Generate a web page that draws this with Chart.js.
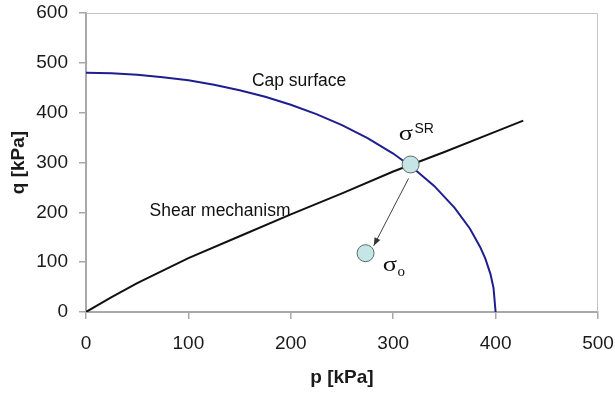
<!DOCTYPE html>
<html>
<head>
<meta charset="utf-8">
<script src="https://cdn.jsdelivr.net/npm/chart.js@4.4.1/dist/chart.umd.min.js"></script>
<style>
  html, body { margin: 0; padding: 0; background: #ffffff; }
  #wrap { width: 615px; height: 393px; }
</style>
</head>
<body>
<div id="wrap"><canvas id="c" width="615" height="393"></canvas></div>
<script>
// ---- data ----
const pCap   = [0, 25, 50, 75, 100, 125, 150, 175, 200, 225, 250, 275, 300, 320, 340, 360, 375, 385, 390, 395, 398, 400];
const qCap   = [480, 479, 476, 471, 465, 456, 445, 432, 416, 397, 375, 349, 318, 288, 253, 209, 167, 130, 107, 76, 48, 0];
const pShear = [0, 25, 50, 100, 150, 200, 250, 300, 350, 400, 427];
const qShear = [0, 30, 58, 108, 152, 196, 238, 282, 321, 362, 384];
const pStress = [317, 273];
const qStress = [296, 118];
const pArrow = [315, 281];
const qArrow = [268, 133];
const xTicks = [0, 100, 200, 300, 400, 500];
const yTicks = [0, 100, 200, 300, 400, 500, 600];
const xTitle = 'p [kPa]';
const yTitle = 'q [kPa]';
const curveLabels = ['Cap surface', 'Shear mechanism'];
const curveLabelP = [162, 62];
const curveLabelQ = [463, 203];
const stressLabels = [{main: 'σ', sup: 'SR'}, {main: 'σ', sub: 'o'}];
const stressLabelP = [305.4, 289.8];
const stressLabelQ = [346, 82];

const toXY = (xs, ys) => xs.map((x, i) => ({x: x, y: ys[i]}));
const SANS = '"Liberation Sans", Arial, sans-serif';
const SERIF = '"Liberation Serif", "Times New Roman", serif';

const framePlugin = {
  id: 'frame',
  beforeDatasetsDraw(chart) {
    const {ctx, chartArea: a} = chart;
    ctx.save();
    ctx.strokeStyle = '#c4c4c4';
    ctx.lineWidth = 1;
    ctx.beginPath();
    ctx.moveTo(a.left, a.top + 0.5);
    ctx.lineTo(a.right - 0.5, a.top + 0.5);
    ctx.lineTo(a.right - 0.5, a.bottom);
    ctx.stroke();
    ctx.restore();
  }
};

const arrowPlugin = {
  id: 'arrowHead',
  afterDatasetsDraw(chart) {
    const meta = chart.getDatasetMeta(2);
    if (!meta || !meta.data || meta.data.length < 2) return;
    const a = meta.data[0], b = meta.data[1];
    const ang = Math.atan2(b.y - a.y, b.x - a.x);
    const L = 8, W = 3.2;
    const {ctx} = chart;
    ctx.save();
    ctx.fillStyle = '#333333';
    ctx.beginPath();
    ctx.moveTo(b.x, b.y);
    ctx.lineTo(b.x - L * Math.cos(ang) + W * Math.sin(ang), b.y - L * Math.sin(ang) - W * Math.cos(ang));
    ctx.lineTo(b.x - L * Math.cos(ang) - W * Math.sin(ang), b.y - L * Math.sin(ang) + W * Math.cos(ang));
    ctx.closePath();
    ctx.fill();
    ctx.restore();
  }
};

const labelPlugin = {
  id: 'labels',
  afterDraw(chart) {
    const {ctx, scales} = chart;
    const xs = scales.x, ys = scales.y;
    ctx.save();
    ctx.fillStyle = '#111111';
    ctx.textAlign = 'left';
    ctx.textBaseline = 'middle';
    ctx.font = '17.5px ' + SANS;
    curveLabels.forEach((t, i) => {
      ctx.fillText(t, xs.getPixelForValue(curveLabelP[i]), ys.getPixelForValue(curveLabelQ[i]));
    });
    ctx.textBaseline = 'alphabetic';
    stressLabels.forEach((l, i) => {
      const x = xs.getPixelForValue(stressLabelP[i]);
      const y = ys.getPixelForValue(stressLabelQ[i]);
      ctx.font = '22px ' + SERIF;
      ctx.save();
      ctx.translate(x, y);
      ctx.scale(1.2, 1);
      ctx.fillText(l.main, 0, 0);
      ctx.restore();
      const w = ctx.measureText(l.main).width * 1.2;
      if (l.sup) {
        ctx.font = '14px ' + SANS;
        ctx.fillText(l.sup, x + w + 1.5, y - 7);
      }
      if (l.sub) {
        ctx.font = '15px ' + SERIF;
        ctx.fillText(l.sub, x + w + 0.5, y + 4.5);
      }
    });
    ctx.restore();
  }
};

function noPad(s) {
  s.paddingTop = 0; s.paddingBottom = 0; s.paddingLeft = 0; s.paddingRight = 0;
}

new Chart(document.getElementById('c'), {
  type: 'scatter',
  data: {
    datasets: [
      {
        label: 'Cap surface',
        data: toXY(pCap, qCap),
        showLine: true,
        borderColor: '#1e1e90',
        borderWidth: 2,
        pointRadius: 0,
        fill: false,
        order: 3
      },
      {
        label: 'Shear mechanism',
        data: toXY(pShear, qShear),
        showLine: true,
        borderColor: '#111111',
        borderWidth: 2,
        pointRadius: 0,
        fill: false,
        order: 2
      },
      {
        label: 'Arrow',
        data: toXY(pArrow, qArrow),
        showLine: true,
        borderColor: '#444444',
        borderWidth: 1,
        pointRadius: 0,
        fill: false,
        order: 1
      },
      {
        label: 'Stress points',
        data: toXY(pStress, qStress),
        showLine: false,
        pointRadius: 8.5,
        pointBackgroundColor: '#c6e5e5',
        pointBorderColor: '#5a6a6a',
        pointBorderWidth: 1,
        order: 0
      }
    ]
  },
  options: {
    responsive: false,
    animation: false,
    devicePixelRatio: 1,
    layout: { padding: { left: 0, right: 17, top: 13, bottom: 0 } },
    plugins: {
      legend: { display: false },
      tooltip: { enabled: false }
    },
    scales: {
      x: {
        type: 'linear',
        min: 0,
        max: 500,
        afterBuildTicks(s) { s.ticks = xTicks.map(v => ({value: v})); },
        afterFit(s) { s.height = 81; noPad(s); },
        ticks: {
          font: { family: SANS, size: 19 },
          color: '#1a1a1a',
          padding: 13,
          maxRotation: 0
        },
        grid: {
          drawOnChartArea: false,
          drawTicks: true,
          tickLength: 7,
          color: '#a8a8a8',
          lineWidth: 1.5
        },
        border: { display: true, color: '#a8a8a8', width: 2 },
        title: {
          display: true,
          text: xTitle,
          font: { family: SANS, size: 19, weight: 'bold' },
          color: '#1a1a1a',
          padding: { top: 0, bottom: 4 }
        }
      },
      y: {
        type: 'linear',
        min: 0,
        max: 600,
        afterBuildTicks(s) { s.ticks = yTicks.map(v => ({value: v})); },
        afterFit(s) { s.width = 86; noPad(s); },
        ticks: {
          font: { family: SANS, size: 19 },
          color: '#1a1a1a',
          padding: 11
        },
        grid: {
          drawOnChartArea: false,
          drawTicks: true,
          tickLength: 7,
          color: '#a8a8a8',
          lineWidth: 1.5
        },
        border: { display: true, color: '#a8a8a8', width: 2 },
        title: {
          display: true,
          text: yTitle,
          font: { family: SANS, size: 19, weight: 'bold' },
          color: '#1a1a1a',
          padding: { top: 7, bottom: 0 }
        }
      }
    }
  },
  plugins: [framePlugin, arrowPlugin, labelPlugin]
});
</script>
</body>
</html>
